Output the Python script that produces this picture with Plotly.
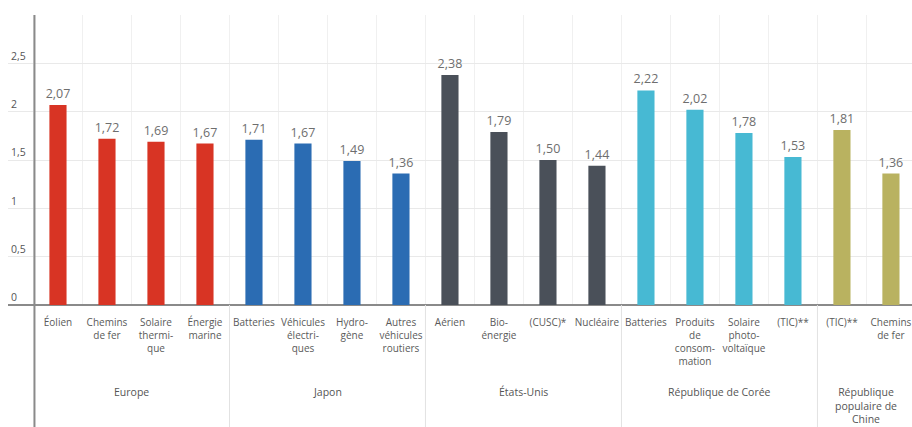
import plotly.graph_objects as go

categories = [
    "Éolien", "Chemins<br>de fer", "Solaire<br>thermi-<br>que", "Énergie<br>marine",
    "Batteries", "Véhicules<br>électri-<br>ques", "Hydro-<br>gène", "Autres<br>véhicules<br>routiers",
    "Aérien", "Bio-<br>énergie", "(CUSC)*", "Nucléaire",
    "Batteries", "Produits<br>de<br>consom-<br>mation", "Solaire<br>photo-<br>voltaïque", "(TIC)**",
    "(TIC)**", "Chemins<br>de fer",
]
values = [2.07, 1.72, 1.69, 1.67,
          1.71, 1.67, 1.49, 1.36,
          2.38, 1.79, 1.50, 1.44,
          2.22, 2.02, 1.78, 1.53,
          1.81, 1.36]
groups = ["Europe", "Japon", "États-Unis", "République de Corée",
          "République<br>populaire de<br>Chine"]
group_sizes = [4, 4, 4, 4, 2]
group_colors = ["#d83424", "#2b6cb3", "#4a5059", "#47b9d3", "#b9b260"]
y_ticks = [0, 0.5, 1, 1.5, 2, 2.5, 3]
y_ticktext = ["0", "0,5", "1", "1,5", "2", "2,5", ""]

x = list(range(len(categories)))
colors = []
for c, n in zip(group_colors, group_sizes):
    colors += [c] * n

fig = go.Figure()
fig.add_trace(go.Bar(
    x=x, y=values, marker=dict(color=colors, line=dict(width=0)),
    width=0.35,
    text=[f"{v:.2f}".replace(".", ",") for v in values],
    textposition="outside", cliponaxis=False, constraintext="none",
    textfont=dict(family="Open Sans", size=12.5, color="#6e6e6e"),
    hoverinfo="skip",
))

shapes = []
# y axis line
shapes.append(dict(type="line", xref="x", yref="paper", x0=-0.48, x1=-0.48,
                   y0=-0.43, y1=1, line=dict(color="#8a8a8a", width=2)))
annotations = []
start = 0
for i, (g, n) in enumerate(zip(groups, group_sizes)):
    end = start + n
    if i > 0:
        shapes.append(dict(type="line", xref="x", yref="paper", x0=start - 0.5, x1=start - 0.5,
                           y0=-0.43, y1=0, line=dict(color="#e2e2e2", width=1)))
    annotations.append(dict(x=(start + end - 1) / 2, y=-0.27, xref="x", yref="paper",
                            text=g, showarrow=False, yanchor="top", xanchor="center",
                            font=dict(family="Open Sans", size=10.5, color="#555555")))
    start = end

fig.update_layout(
    width=912, height=427,
    margin=dict(l=8, r=0, t=15, b=122),
    paper_bgcolor="white", plot_bgcolor="white",
    separators=",.",
    showlegend=False,
    shapes=shapes, annotations=annotations,
    xaxis=dict(
        range=[-1.02, 17.43], tickmode="array", tickvals=x, ticktext=categories,
        tickangle=0, showgrid=False, zeroline=False, showline=False, ticks="",
        tickfont=dict(family="Open Sans", size=10, color="#5a5a5a"),
        minor=dict(tickmode="linear", tick0=0.5, dtick=1, showgrid=True,
                   gridcolor="#f0f0f0", gridwidth=1, ticks=""),
        ticklabelstandoff=10,
    ),
    yaxis=dict(
        range=[0, 3], tickmode="array", tickvals=y_ticks, ticktext=y_ticktext,
        ticklabelposition="inside top", showgrid=True, gridcolor="#e9e9e9", gridwidth=1,
        zeroline=True, zerolinecolor="#8a8a8a", zerolinewidth=1.5, showline=False,
        tickfont=dict(family="Open Sans", size=10.5, color="#555555"),
    ),
)

fig.write_html("out.html")
